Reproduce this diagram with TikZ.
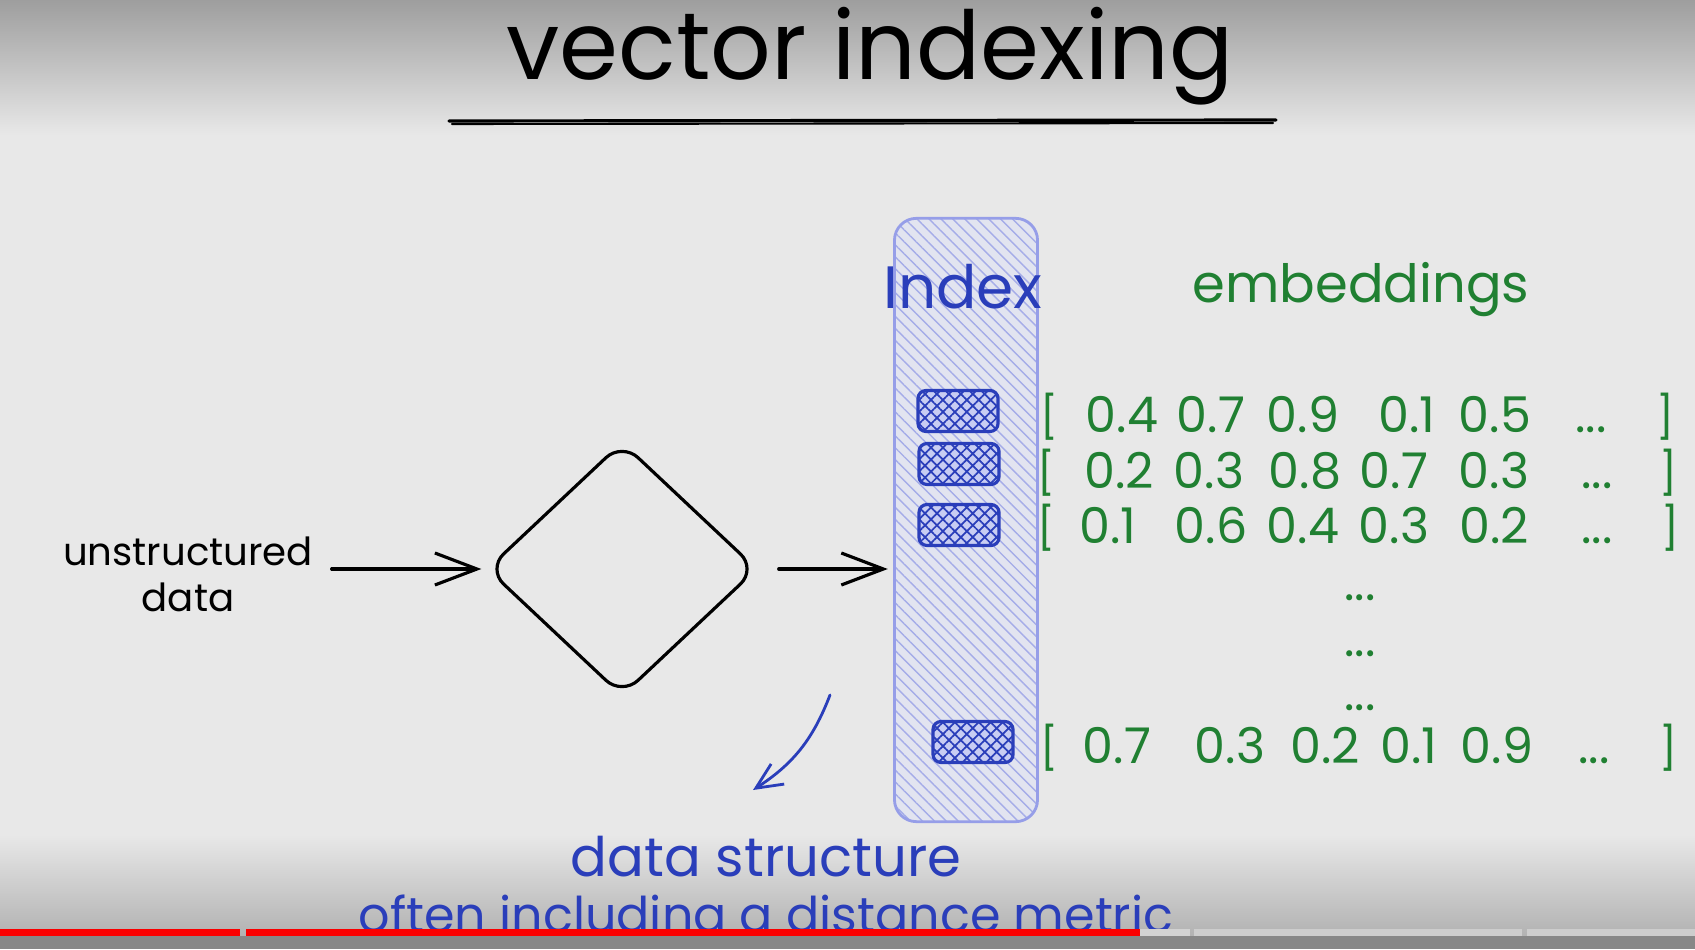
\documentclass[tikz,border=0pt]{standalone}
\usepackage{fontspec}
\setmainfont{Poppins}
\usetikzlibrary{arrows.meta,shapes.geometric,patterns.meta}

\definecolor{paper}{RGB}{232,232,232}
\definecolor{papertop}{RGB}{158,158,158}
\definecolor{paperbot}{RGB}{178,178,178}
\definecolor{barbase}{RGB}{135,135,135}
\definecolor{ytred}{RGB}{250,0,0}
\definecolor{ytgray}{RGB}{205,205,205}
\definecolor{inkblue}{RGB}{42,62,186}
\definecolor{inkgreen}{RGB}{32,128,50}
\definecolor{colfill}{RGB}{226,228,240}
\definecolor{colline}{RGB}{165,172,232}
\definecolor{colrim}{RGB}{150,158,232}
\definecolor{slotfill}{RGB}{200,205,243}
\newcommand{\moredots}{...}

\begin{document}
\begin{tikzpicture}[x=0.01cm, y=-0.01cm, line cap=round,
  flow/.style={->, >={Straight Barb[length=4.2mm,width=3.2mm]}, line width=0.9pt, black},
  noteflow/.style={->, >={Straight Barb[length=2.6mm,width=2.4mm]}, line width=0.8pt, inkblue},
  hand/.style={inner sep=0pt},
  num/.style={hand, anchor=base, text=inkgreen, font=\fontsize{14}{14}\selectfont},
  brk/.style={hand, anchor=base, text=inkgreen, font=\fontsize{12}{12}\selectfont},
  slot/.style={draw=inkblue, line width=0.9pt, rounded corners=0.08cm, minimum width=0.8cm, minimum height=0.41cm, inner sep=0pt,
    preaction={fill=slotfill}, pattern={Hatch[angle=45,distance=2.4pt,line width=0.5pt]}, pattern color=inkblue}]

\useasboundingbox (0,0) rectangle (1695,949);

% page
\fill[paper] (0,0) rectangle (1695,949);
\shade[top color=papertop, bottom color=paper] (0,0) rectangle (1695,135);
\shade[top color=paper, bottom color=paperbot] (0,835) rectangle (1695,936);

% title
\node[hand, anchor=base, font=\fontsize{27}{27}\selectfont] (title) at (870,80) {vector indexing};
\draw[line width=0.9pt] (449,121) -- (1276,120);
\draw[line width=0.6pt] (452,124) -- (1273,123);

% pipeline
\node[hand, align=center, font=\fontsize{11}{13}\selectfont] (src) at (188,574) {unstructured\\data};
\node[draw, diamond, line width=0.9pt, minimum width=2.7cm, minimum height=2.54cm, rounded corners=0.22cm, inner sep=0pt] (proc) at (622,569) {};
\node[draw=colrim, line width=0.8pt, rounded corners=0.22cm, minimum width=1.43cm, minimum height=6.03cm, inner sep=0pt,
  preaction={fill=colfill}, pattern={Lines[angle=-45,distance=2.4pt,line width=0.4pt]}, pattern color=colline] (col) at (966,520) {};
\draw[flow, shorten <=0.18cm, shorten >=0.04cm] (src.east |- proc.west) -- (proc.west);
\draw[flow, shorten <=0.2cm, shorten >=0.06cm] (proc.east) -- (proc.east -| col.west);

\node[hand, text=inkblue, font=\fontsize{17}{17}\selectfont] (idx) at (963,287) {Index};
\node[slot] (v1) at (958,411) {};
\node[slot] (v2) at (959,464) {};
\node[slot] (v3) at (959,525) {};
\node[slot] (v4) at (973,742) {};

% embeddings
\node[hand, anchor=base, text=inkgreen, font=\fontsize{15}{15}\selectfont] (emb) at (1361,303) {embeddings};
\node[brk] (ra-0) at (1049,432) {[};
\foreach \px/\v [count=\i] in {1122/0.4,1211/0.7,1303/0.9,1407/0.1,1495/0.5,1591/\moredots}
  \node[num] (ra-\i) at (\px,432) {\v};
\node[brk] (ra-7) at (1665,432) {]};
\node[brk] (rb-0) at (1046,488) {[};
\foreach \px/\v [count=\i] in {1119/0.2,1209/0.3,1305/0.8,1394/0.7,1494/0.3,1597/\moredots}
  \node[num] (rb-\i) at (\px,488) {\v};
\node[brk] (rb-7) at (1668,488) {]};
\node[brk] (rc-0) at (1046,543) {[};
\foreach \px/\v [count=\i] in {1108/0.1,1211/0.6,1303/0.4,1394/0.3,1494/0.2,1597/\moredots}
  \node[num] (rc-\i) at (\px,543) {\v};
\node[brk] (rc-7) at (1670,543) {]};
\foreach \py [count=\i] in {600,656,710}
  \node[num] (gap-\i) at (1360,\py) {\moredots};
\node[brk] (rd-0) at (1049,763) {[};
\foreach \px/\v [count=\i] in {1117/0.7,1230/0.3,1325/0.2,1409/0.1,1497/0.9,1594/\moredots}
  \node[num] (rd-\i) at (\px,763) {\v};
\node[brk] (rd-7) at (1668,763) {]};

% note
\node[hand, anchor=base, text=inkblue, font=\fontsize{15.5}{15.5}\selectfont] (note) at (766,876) {data structure};
\node[hand, anchor=base, text=inkblue, font=\fontsize{14}{14}\selectfont] (note2) at (766,932) {often including a distance metric};
\coordinate (tail) at (830,695);
\coordinate (head) at (753,790);
\draw[noteflow] (tail) to[bend left=18] (head);

% player bar
\fill[barbase] (0,936) rectangle (1695,949);
\fill[ytred] (0,929) rectangle (240,936);
\fill[ytred] (246,929) rectangle (1140,936);
\fill[ytgray!80!paper] (1140,929) rectangle (1190,936);
\fill[ytgray] (1194,929) rectangle (1522,936);
\fill[ytgray] (1527,929) rectangle (1695,936);
\end{tikzpicture}
\end{document}
